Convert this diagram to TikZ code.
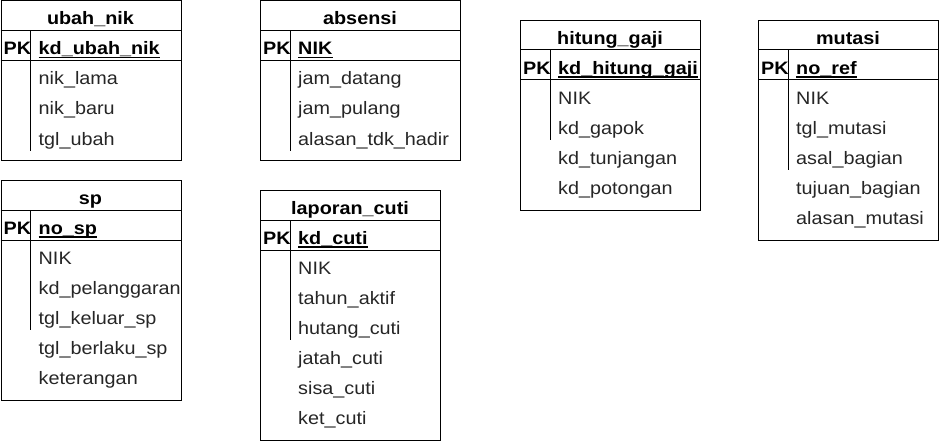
\documentclass[tikz,border=0pt]{standalone}
\usepackage{fontspec}
\setmainfont[FakeStretch=1.1]{Liberation Sans}
\tikzset{
  tbox/.style={draw=black, line width=1pt, fill=white, inner sep=0pt},
  tline/.style={draw=black, line width=1pt},
  ttl/.style={font=\fontsize{18}{20}\selectfont\bfseries, inner sep=0pt, anchor=base},
  pkl/.style={font=\fontsize{18}{20}\selectfont\bfseries, inner sep=0pt, anchor=base west},
  pkn/.style={font=\fontsize{18}{20}\selectfont\bfseries, inner sep=0pt, anchor=base west},
  attr/.style={font=\fontsize{18}{20}\selectfont, inner sep=0pt, anchor=base west, text=black!85},
  uline/.style={draw=black, line width=1.5pt}
}
\newcommand\ertable[9]{%
  \node[tbox, minimum width=#4pt, minimum height=#5pt, anchor=north west] (#1) at (#2,#3) {};
  \draw[tline] (#2,#3+30) -- (#2+#4,#3+30);
  \draw[tline] (#2,#3+60) -- (#2+#4,#3+60);
  \draw[tline] (#2+30,#3+30) -- (#2+30,#3+60+30*#6);
  \node[ttl] (#1-t) at (#2+#4/2,#3+24.5) {#7};
  \node[pkl] (#1-pk) at (#2+3,#3+54.5) {PK};
  \node[pkn] (#1-k) at (#2+38,#3+54.5) {#8};
  \draw[uline] ([yshift=-2.5pt]#1-k.base west) -- ([yshift=-2.5pt]#1-k.base east);
  \foreach \a [count=\i] in {#9} {
    \node[attr] (#1-a\i) at (#2+38,#3+60+30*\i-5.5) {\a};
  }
}
\begin{document}
\begin{tikzpicture}[x=1pt,y=-1pt]
  \useasboundingbox (0,0) rectangle (939,441);
  \fill[white] (0,0) rectangle (939,441);
  \ertable{ubah}{0.5}{0.5}{180}{159.5}{3}{ubah\_nik}{kd\_ubah\_nik}{nik\_lama,nik\_baru,tgl\_ubah}
  \ertable{sp}{0.5}{180}{180}{220}{3}{sp}{no\_sp}{NIK,kd\_pelanggaran,tgl\_keluar\_sp,tgl\_berlaku\_sp,keterangan}
  \ertable{absensi}{260}{0.5}{200}{159.5}{3}{absensi}{NIK}{jam\_datang,jam\_pulang,alasan\_tdk\_hadir}
  \ertable{cuti}{260}{190}{180}{250}{3}{laporan\_cuti}{kd\_cuti}{NIK,tahun\_aktif,hutang\_cuti,jatah\_cuti,sisa\_cuti,ket\_cuti}
  \ertable{gaji}{520}{20}{180}{190}{2}{hitung\_gaji}{kd\_hitung\_gaji}{NIK,kd\_gapok,kd\_tunjangan,kd\_potongan}
  \ertable{mutasi}{758}{20}{180}{220}{3}{mutasi}{no\_ref}{NIK,tgl\_mutasi,asal\_bagian,tujuan\_bagian,alasan\_mutasi}
\end{tikzpicture}
\end{document}
